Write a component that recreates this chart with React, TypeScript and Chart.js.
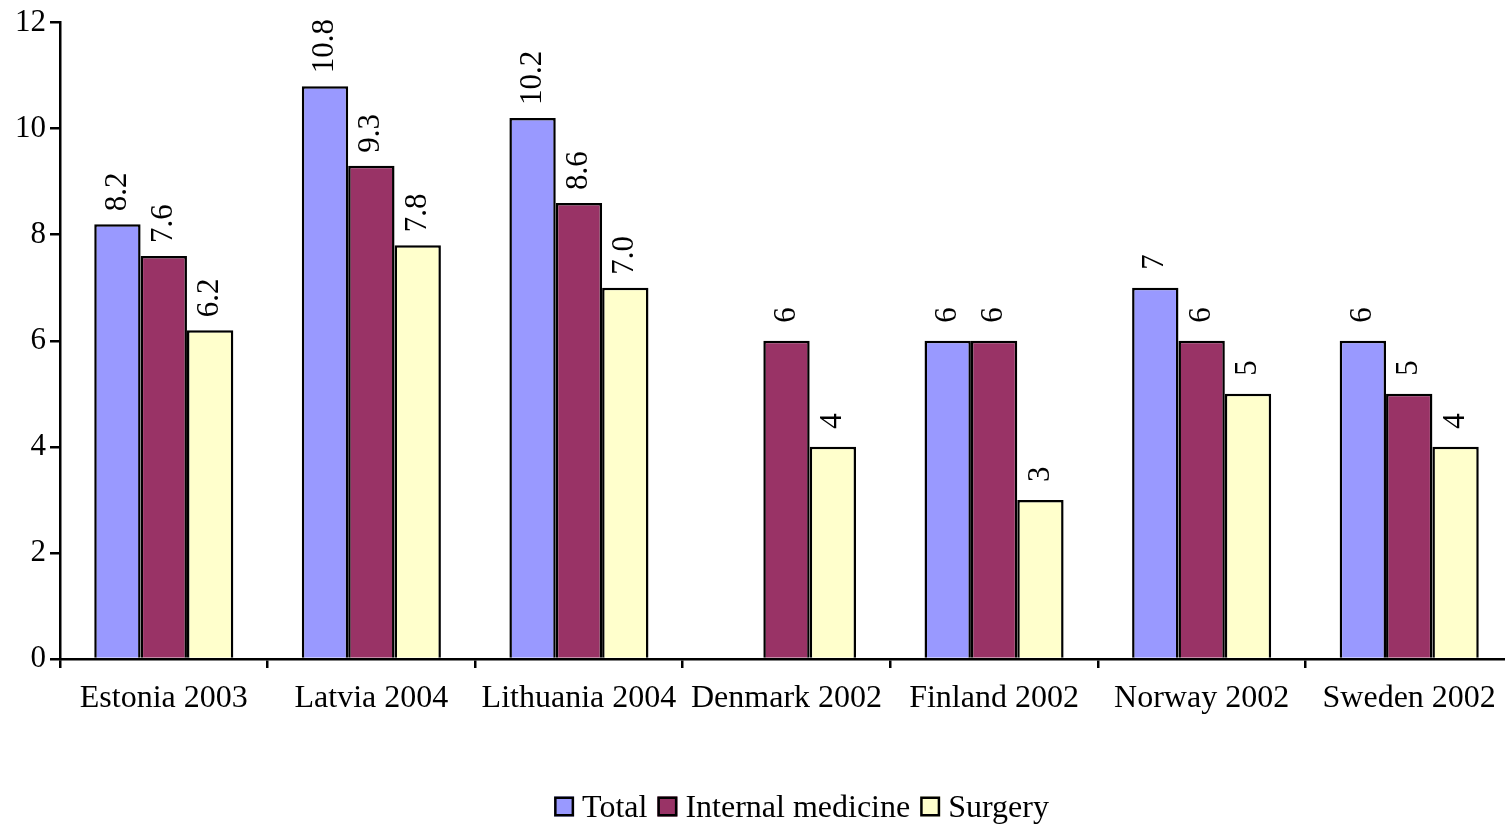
import React, { useEffect, useRef } from "react";
import { Chart, registerables } from "chart.js";

Chart.register(...registerables);

const categories = [
  "Estonia 2003",
  "Latvia 2004",
  "Lithuania 2004",
  "Denmark 2002",
  "Finland 2002",
  "Norway 2002",
  "Sweden 2002",
];
const totalValues: (number | null)[] = [8.2, 10.8, 10.2, null, 6, 7, 6];
const internalValues: (number | null)[] = [7.6, 9.3, 8.6, 6, 6, 6, 5];
const surgeryValues: (number | null)[] = [6.2, 7.8, 7.0, 4, 3, 5, 4];
const labelDecimals = [1, 1, 1, 0, 0, 0, 0];
const yTicks = [0, 2, 4, 6, 8, 10, 12];

const FONT = "'Liberation Serif', 'Times New Roman', serif";
const W = 1603;
const H = 827;

const valueLabelPlugin = {
  id: "valueLabels",
  afterDatasetsDraw(chart: any) {
    const ctx = chart.ctx;
    ctx.save();
    ctx.font = `31px ${FONT}`;
    ctx.fillStyle = "#000";
    chart.data.datasets.forEach((ds: any, di: number) => {
      const meta = chart.getDatasetMeta(di);
      meta.data.forEach((el: any, i: number) => {
        const v = ds.data[i];
        if (v === null || v === undefined) return;
        const txt = v.toFixed(labelDecimals[i]);
        const gap = txt.length > 1 ? 13 : 18;
        ctx.save();
        ctx.translate(el.x, el.y - gap);
        ctx.rotate(-Math.PI / 2);
        ctx.textAlign = "left";
        ctx.textBaseline = "middle";
        ctx.fillText(txt, 0, 0);
        ctx.restore();
      });
    });
    ctx.restore();
  },
};

const legendPlugin = {
  id: "customLegend",
  afterDraw(chart: any) {
    const ctx = chart.ctx;
    ctx.save();
    ctx.font = `32px ${FONT}`;
    const box = 20;
    const boxGap = 8;
    const itemGap = 10;
    const items = chart.data.datasets.map((ds: any) => ({
      label: ds.label,
      color: ds.backgroundColor,
      w: ctx.measureText(ds.label).width,
    }));
    const total =
      items.reduce((s: number, it: any) => s + box + boxGap + it.w, 0) +
      itemGap * (items.length - 1);
    let x = 801.5 - total / 2;
    const cy = 806.5;
    items.forEach((it: any) => {
      ctx.fillStyle = it.color;
      ctx.fillRect(x, cy - box / 2, box, box);
      ctx.strokeStyle = "#000";
      ctx.lineWidth = 2.5;
      ctx.strokeRect(x + 1.25, cy - box / 2 + 1.25, box - 2.5, box - 2.5);
      ctx.fillStyle = "#000";
      ctx.textAlign = "left";
      ctx.textBaseline = "middle";
      ctx.fillText(it.label, x + box + boxGap, cy + 2);
      x += box + boxGap + it.w + itemGap;
    });
    ctx.restore();
  },
};

export default function App() {
  const ref = useRef<HTMLCanvasElement | null>(null);
  useEffect(() => {
    if (!ref.current) return;
    const chart = new Chart(ref.current, {
      type: "bar",
      data: {
        labels: categories,
        datasets: [
          {
            label: "Total",
            data: totalValues,
            backgroundColor: "#9999FF",
            borderColor: "#000",
            borderWidth: 2.5,
          },
          {
            label: "Internal medicine",
            data: internalValues,
            backgroundColor: "#993366",
            borderColor: "#000",
            borderWidth: 2.5,
          },
          {
            label: "Surgery",
            data: surgeryValues,
            backgroundColor: "#FFFFCC",
            borderColor: "#000",
            borderWidth: 2.5,
          },
        ],
      },
      options: {
        responsive: false,
        animation: false,
        layout: { padding: { top: 20, right: W - 1513, left: 0, bottom: 0 } },
        datasets: {
          bar: { categoryPercentage: 0.67, barPercentage: 1, grouped: true },
        },
        plugins: {
          legend: { display: false },
          tooltip: { enabled: false },
        },
        scales: {
          x: {
            offset: true,
            grid: {
              offset: true,
              drawOnChartArea: false,
              drawTicks: true,
              tickLength: 9,
              color: "#000",
              lineWidth: 2.5,
            },
            border: { color: "#000", width: 2.5 },
            ticks: {
              color: "#000",
              font: { family: FONT, size: 32 },
              padding: 11,
              maxRotation: 0,
              autoSkip: false,
            },
            afterFit: (s: any) => {
              s.height = H - 659;
            },
          },
          y: {
            min: 0,
            max: 12,
            afterBuildTicks: (s: any) => {
              s.ticks = yTicks.map((v) => ({ value: v }));
            },
            grid: {
              drawOnChartArea: false,
              drawTicks: true,
              tickLength: 10,
              color: "#000",
              lineWidth: 2.5,
            },
            border: { color: "#000", width: 2.5 },
            ticks: {
              color: "#000",
              font: { family: FONT, size: 31 },
              padding: 4,
            },
            afterFit: (s: any) => {
              s.width = 60;
            },
          },
        },
      },
      plugins: [valueLabelPlugin, legendPlugin],
    });
    return () => chart.destroy();
  }, []);
  return (
    <div
      style={{
        position: "fixed",
        left: 0,
        top: 0,
        width: 1505,
        height: H,
        overflow: "hidden",
        background: "#fff",
      }}
    >
      <canvas ref={ref} width={W} height={H} style={{ width: W, height: H }} />
    </div>
  );
}
